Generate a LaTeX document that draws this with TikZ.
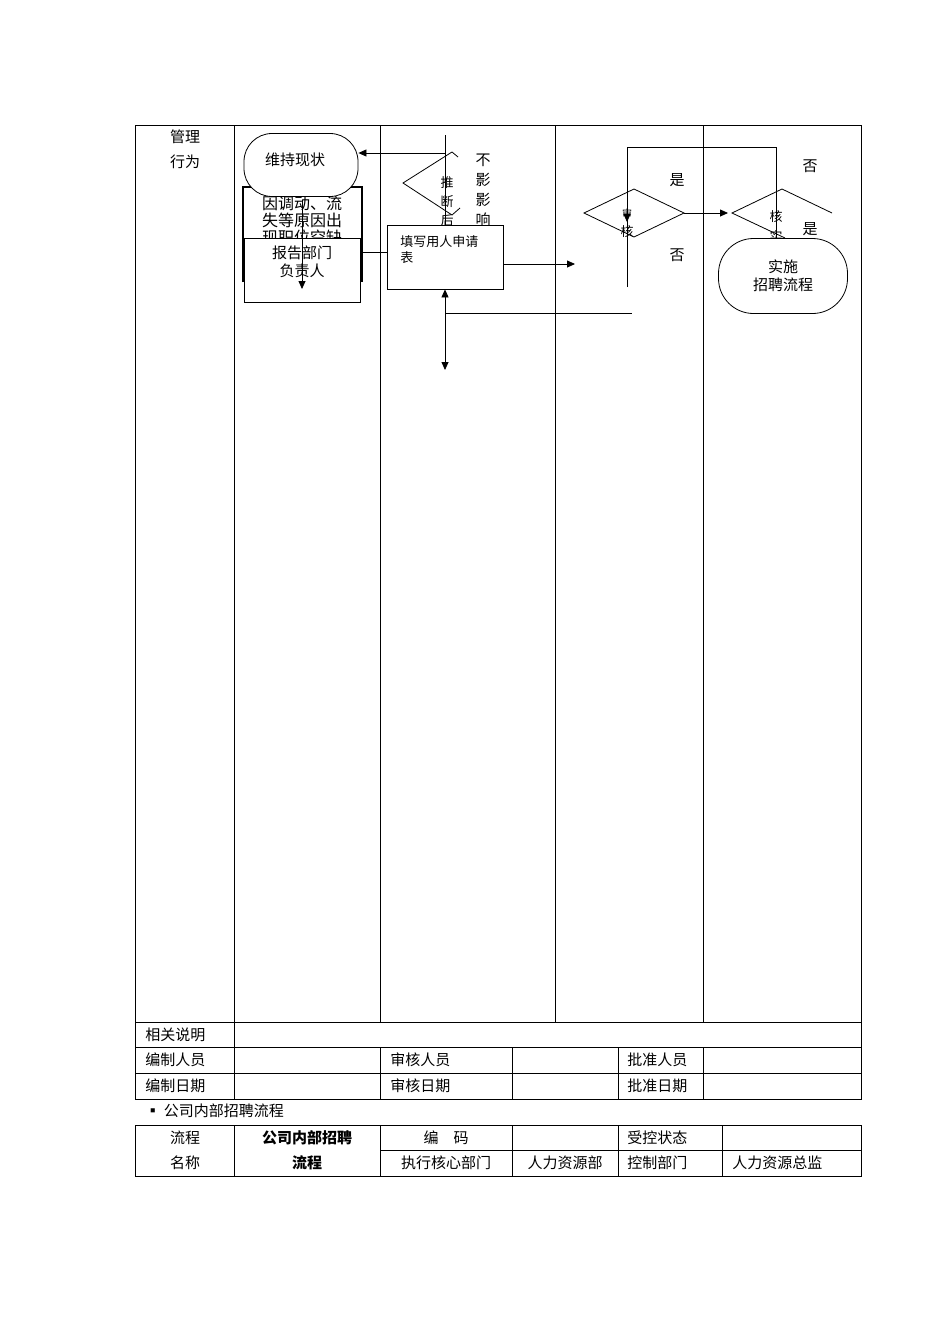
\documentclass[tikz,border=0pt]{standalone}
\usepackage{fontspec}
\setmainfont{Noto Sans CJK SC}
\usetikzlibrary{arrows.meta}
\begin{document}
\begin{tikzpicture}[x=1pt,y=-1pt,line width=0.8pt,
  t/.style={font=\fontsize{15}{18}\selectfont,inner sep=0pt},
  ts/.style={font=\fontsize{13}{16}\selectfont,inner sep=0pt},
  arr/.style={-{Triangle[length=8pt,width=7pt]}},
  stad/.style={draw,rounded corners=28pt}]
\useasboundingbox (0,0) rectangle (950,1344);
% main table
\draw (135,125) rectangle (861,1099);
\foreach \x in {234,380,555,703} \draw (\x,125) -- (\x,1022);
\foreach \y in {1022,1047,1073} \draw (135,\y) -- (861,\y);
\draw (234,1022) -- (234,1099);
\foreach \x in {380,512,618,703} \draw (\x,1047) -- (\x,1099);
\node[t] (m1) at (185,137) {管理};
\node[t] (m2) at (185,162) {行为};
\node[t,anchor=west] (r1) at (145,1035) {相关说明};
\node[t,anchor=west] (r2) at (145,1060) {编制人员};
\node[t,anchor=west] (r3) at (145,1086) {编制日期};
\node[t,anchor=west] (r4) at (390,1060) {审核人员};
\node[t,anchor=west] (r5) at (390,1086) {审核日期};
\node[t,anchor=west] (r6) at (627,1060) {批准人员};
\node[t,anchor=west] (r7) at (627,1086) {批准日期};
\node[t,anchor=west] (cap) at (145,1111) {▪ 公司内部招聘流程};
% second table
\draw (135,1125) rectangle (861,1176);
\draw (380,1150) -- (861,1150);
\foreach \x in {234,380,512,618,722} \draw (\x,1125) -- (\x,1176);
\node[t] (a1) at (185,1138) {流程};
\node[t] (a2) at (185,1163) {名称};
\node[t,font=\fontsize{15}{18}\selectfont\bfseries] (a3) at (307,1138) {公司内部招聘};
\node[t,font=\fontsize{15}{18}\selectfont\bfseries] (a4) at (307,1163) {流程};
\node[t] (a5) at (446,1138) {编\quad 码};
\node[t] (a6) at (446,1163) {执行核心部门};
\node[t] (a7) at (565,1163) {人力资源部};
\node[t,anchor=west] (a8) at (627,1138) {受控状态};
\node[t,anchor=west] (a9) at (627,1163) {控制部门};
\node[t,anchor=west] (a10) at (732,1163) {人力资源总监};
% column 1
\draw[line width=2.5pt] (243,282) -- (243,187) -- (362,187) -- (362,282);
\begin{scope}
\clip (246,189) rectangle (359,240);
\node[t,align=center,font=\fontsize{16}{17}\selectfont] (bk) at (302,220) {因调动、流\\失等原因出\\现职位空缺};
\end{scope}
\node[stad,fill=white,minimum width=114pt,minimum height=63pt] (wc) at (301,165) {};
\node[t] at (295,160) {维持现状};
\node[draw,fill=white,minimum width=116pt,minimum height=64pt,inner sep=0pt] (rep) at (302,270) {};
\node[t,align=center] at (302,262) {报告部门\\负责人};
\coordinate (s1) at (302,200);
\coordinate (s2) at (302,289);
\draw[arr] (s1) -- (s2);
% column 2
\coordinate (v0) at (445,135);
\draw (v0) -- (445,225);
\draw (458,157) -- (452,152) -- (403,183) -- (452,215) -- (460,208);
\coordinate (w1) at (445,153);
\draw[arr] (w1) -- (wc.east |- w1);
\node[ts] at (447,183) {推};
\node[ts] at (447,202) {断};
\begin{scope}\clip (430,212) rectangle (470,225); \node[ts] at (447,221) {后};\end{scope}
\node[t] at (483,160) {不};
\node[t] at (483,180) {影};
\node[t] at (483,200) {影};
\begin{scope}\clip (470,212) rectangle (500,225); \node[t] at (483,220) {响};\end{scope}
\node[draw,minimum width=116pt,minimum height=64pt,inner sep=0pt] (fill) at (445,257) {};
\node[ts,align=left,anchor=north west] at (400,235) {填写用人申请\\表};
\draw (rep.east |- 0,252) -- (fill.west |- 0,252);
\coordinate (e1) at (575,264);
\draw[arr] (fill.east |- e1) -- (e1);
\coordinate (d1) at (445,370);
\coordinate (d2) at (445,313);
\draw[arr] (d2) -- (fill.south);
\draw[arr] (d2) -- (d1);
\coordinate (h1) at (632,313);
\draw (d2) -- (h1);
% column 3
\draw (584,213) -- (634,189) -- (684,213) -- (634,237) -- cycle;
\node[font=\fontsize{10}{12}\selectfont,inner sep=0pt] at (627,214) {审};
\node[ts] at (627,232) {核};
\coordinate (p1) at (627,147);
\coordinate (p2) at (776,147);
\draw (627,287) -- (627,220);
\draw[arr] (p2) -- (p1) -- (627,222);
\draw (p2) -- (776,238);
\node[t] at (677,180) {是};
\node[t] at (677,255) {否};
\coordinate (q1) at (684,213);
\coordinate (q2) at (728,213);
\draw[arr] (q1) -- (q2);
% column 4
\draw (785,238) -- (732,213) -- (782,189) -- (832,213);
\node[ts] at (776,217) {核};
\begin{scope}\clip (760,228) rectangle (795,238); \node[ts] at (776,236) {实};\end{scope}
\node[t] at (810,229) {是};
\node[t] at (810,166) {否};
\node[stad,fill=white,minimum width=129pt,minimum height=75pt,rounded corners=35pt] (imp) at (783,276) {};
\node[t,align=center] at (783,276) {实施\\招聘流程};
\end{tikzpicture}
\end{document}
